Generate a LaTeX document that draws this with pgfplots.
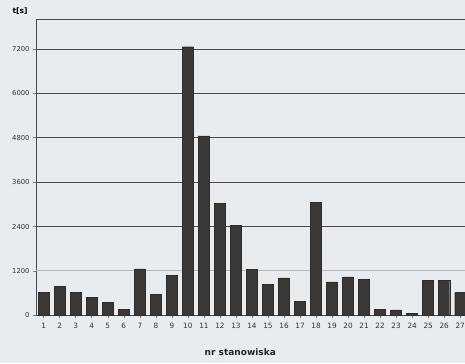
\documentclass[border=0pt]{standalone}
\usepackage{fontspec}
\setmainfont{DejaVu Sans}
\usepackage{pgfplots}
\pgfplotsset{compat=1.18}
\definecolor{bg}{HTML}{E9ECEE}
\definecolor{barc}{HTML}{3A3737}
\definecolor{gridc}{HTML}{4A4A4A}
\begin{document}
\begin{tikzpicture}
\fill[bg] (-36pt,-48pt) rectangle (428.5pt,315pt);
\path[use as bounding box] (-36pt,-48pt) rectangle (428.5pt,315pt);
\begin{axis}[
  at={(0,0)}, anchor=south west,
  scale only axis, width=429pt, height=296pt,
  xmin=0.52, xmax=27.33, ymin=0, ymax=8010,
  ybar, bar width=11pt, bar shift=0pt,
  xtick={1,...,27},
  ytick={0,2400,3600,4800,6000,7200},
  extra y ticks={1200},
  extra y tick style={grid style={gray!55, line width=0.9pt}},
  ymajorgrids, grid style={gridc, line width=0.8pt},
  /pgf/number format/1000 sep={},
  /pgf/number format/assume math mode=true,
  tick label style={font=\fontsize{7.3}{8}\selectfont, text=black!80},
  yticklabel style={font=\fontsize{6.8}{7}\selectfont},
  xticklabel style={yshift=-1pt},
  major tick length=3pt,
  tick style={gray, line width=0.6pt},
  tick align=outside,
  xtick pos=bottom, ytick pos=left,
  axis line style={gridc, line width=0.8pt},
  axis background/.style={fill=bg},
]
\addplot[fill=barc, draw=barc!80!black] coordinates {
(1,630) (2,785) (3,615) (4,495) (5,352) (6,154) (7,1253) (8,560) (9,1083)
(10,7260) (11,4850) (12,3023) (13,2436) (14,1237) (15,839) (16,1010) (17,379)
(18,3050) (19,902) (20,1037) (21,966) (22,154) (23,150) (24,63) (25,947)
(26,947) (27,615)};
\end{axis}
\node[font=\fontsize{7.5}{8}\selectfont\bfseries] at (-16pt,304pt) {t[s]};
\node[font=\fontsize{9}{10}\selectfont\bfseries, text=black!85] at (204pt,-37pt) {nr stanowiska};
\end{tikzpicture}
\end{document}
